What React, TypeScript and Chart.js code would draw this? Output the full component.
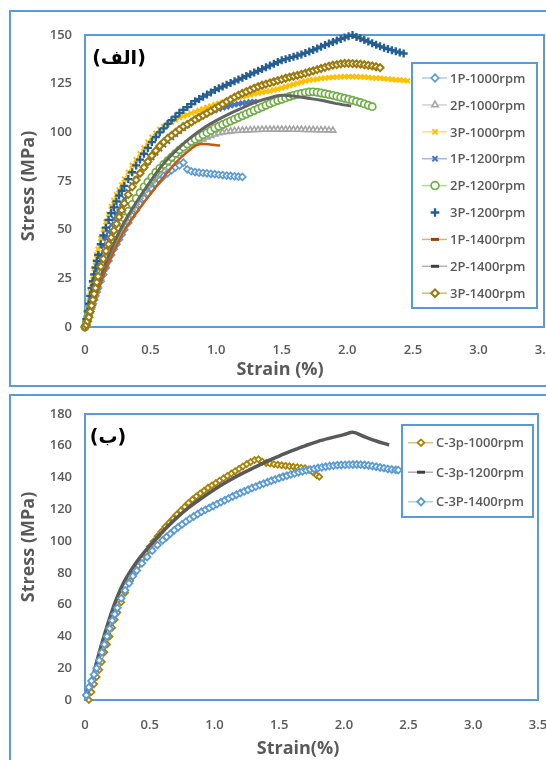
import React, { useEffect, useRef } from "react";
import { Chart, registerables } from "chart.js";
import { drawPoint } from "chart.js/helpers";

Chart.register(...registerables);
Chart.defaults.font.family = "'Open Sans', sans-serif";

// ---------- Chart (الف) data ----------
const STRAIN_TOP = [
  0, 0.01, 0.02, 0.03, 0.04, 0.05, 0.06, 0.07, 0.08, 0.09,
  0.1, 0.12, 0.14, 0.16, 0.18, 0.2, 0.22, 0.24, 0.26, 0.28,
  0.3, 0.33, 0.36, 0.39, 0.42, 0.45, 0.48, 0.51, 0.54, 0.57,
  0.6, 0.63, 0.66, 0.69, 0.72, 0.75, 0.78, 0.81, 0.84, 0.87,
  0.9, 0.93, 0.96, 0.99, 1.02, 1.05, 1.08, 1.11, 1.14, 1.17,
  1.2, 1.23, 1.26, 1.29, 1.32, 1.35, 1.38, 1.41, 1.44, 1.47,
  1.5, 1.53, 1.56, 1.59, 1.62, 1.65, 1.68, 1.71, 1.74, 1.77,
  1.8, 1.83, 1.86, 1.89, 1.92, 1.95, 1.98, 2.01, 2.04, 2.07,
  2.1, 2.13, 2.16, 2.19, 2.22, 2.25, 2.28, 2.31, 2.34, 2.37,
  2.4, 2.43, 2.46,
];

const STRESS_1P_1000 = [
  0, 2, 4, 6, 8, 10, 12, 14, 16, 18,
  20, 23.5, 27, 30.5, 34, 37, 40, 42.5, 45, 47.5,
  50, 53.5, 57, 60, 63, 66, 68.5, 71, 73.5, 75.5,
  77.5, 79, 80.5, 82, 83, 84.5, 81, 80, 79.6, 79.3,
  79.1, 78.9, 78.7, 78.5, 78.2, 78, 77.8, 77.6, 77.4, 77.2,
  77.1,
];
const STRESS_2P_1000 = [
  0, 2, 4, 6, 8, 10, 12.5, 15, 17.5, 19.5,
  21.5, 25.5, 29.5, 33, 36.5, 40, 43, 46, 49, 51.5,
  54, 57.5, 61, 64, 67, 70, 72.5, 75, 77.5, 80,
  82, 84, 86, 88, 89, 90.5, 92, 93.5, 94.5, 95.5,
  96.5, 97.5, 98.3, 99, 99.6, 100, 100.3, 100.6, 100.8, 100.9,
  101, 101.1, 101.2, 101.3, 101.3, 101.4, 101.4, 101.5, 101.5, 101.5,
  101.5, 101.5, 101.5, 101.4, 101.4, 101.4, 101.3, 101.3, 101.3, 101.2,
  101.2, 101.2, 101.1, 101,
];
const STRESS_3P_1000 = [
  0, 4, 9, 13, 18, 22, 26, 30, 33.5, 37,
  40, 45.5, 50, 54, 58, 62, 65, 68, 70.5, 73,
  76, 79.5, 83, 86, 89, 92, 95, 97.5, 99.5, 101.5,
  103, 104.1, 105.3, 106.4, 107.5, 108.3, 109, 109.8, 110.5, 111.3,
  112, 112.8, 113.5, 114.3, 114.9, 115.5, 116.1, 116.7, 117.3, 117.8,
  118.3, 118.7, 119.2, 119.7, 120.1, 120.5, 120.9, 121.3, 121.8, 122.2,
  122.8, 123.4, 124, 124.6, 125.2, 125.8, 126.3, 126.8, 127.1, 127.4,
  127.7, 127.9, 128.1, 128.3, 128.4, 128.5, 128.6, 128.6, 128.6, 128.5,
  128.5, 128.4, 128.2, 128, 127.9, 127.8, 127.6, 127.4, 127.2, 127,
  126.9, 126.7, 126.5,
];
const STRESS_1P_1200 = [
  0, 3.5, 7, 10.5, 14, 17, 20.5, 23.5, 26.5, 29.5,
  32, 37, 41.5, 45.5, 49, 52.5, 55.5, 58.5, 61, 63.5,
  66, 69.5, 73, 76, 79, 82, 84.5, 87, 89.5, 91.5,
  93.5, 95.4, 97.3, 99, 100.5, 102, 103.5, 105, 106.5, 107.6,
  108.7, 109.8, 110.5, 111.3, 111.9, 112.5, 113.1, 113.7, 114.2, 114.6,
  115, 115.3, 115.6, 115.8,
];
const STRESS_2P_1200 = [
  0, 2.5, 5, 7.5, 10, 12.5, 15, 17.5, 20, 22,
  24, 28, 32, 35.5, 39, 42, 45, 48, 51, 53.5,
  56, 59.5, 63, 66, 69, 72, 74.5, 77, 79.5, 81.5,
  83.5, 85.4, 87.3, 89.2, 91, 92.5, 94, 95.4, 96.5, 97.6,
  98.7, 99.8, 101, 102.2, 103.1, 104, 104.9, 105.8, 106.7, 107.6,
  108.5, 109.4, 110.3, 111.2, 112.1, 113, 113.9, 114.8, 115.6, 116.3,
  117, 117.7, 118.4, 119, 119.5, 120, 120.4, 120.7, 120.8, 120.6,
  120.2, 119.8, 119.4, 119, 118.5, 118, 117.5, 117, 116.5, 115.9,
  115.3, 114.6, 113.9, 113.2,
];
const STRESS_3P_1200 = [
  0, 4, 8, 12, 16, 20, 23.5, 27, 30.5, 34,
  37, 42.5, 47, 51, 55, 58.5, 61.5, 64.5, 67.5, 70,
  72.5, 76, 79.5, 83, 86, 89, 92, 95, 97.5, 100,
  102, 104.3, 106.2, 108.1, 110, 111.5, 113, 114.5, 116, 117.1,
  118.3, 119.4, 120.5, 121.7, 122.6, 123.5, 124.4, 125.3, 126.2, 127.1,
  128, 128.9, 129.8, 130.7, 131.6, 132.5, 133.4, 134.3, 135.2, 136.1,
  137, 137.6, 138.2, 138.8, 139.4, 140, 140.8, 141.5, 142.3, 143.1,
  144, 144.8, 145.6, 146.4, 147.2, 148, 148.7, 149.4, 150, 149,
  148.3, 147.4, 146.6, 145.8, 145, 144.2, 143.5, 142.8, 142.2, 141.6,
  141, 140.5,
];
const STRESS_3P_1400 = [
  0, 1, 3, 5, 8, 11, 14, 17, 20, 23,
  26, 31, 35, 39, 42.5, 46, 49.5, 53, 56.5, 60,
  63.5, 68, 72, 75.5, 79, 82, 85, 88, 90.5, 93,
  95, 96.9, 98.4, 99.9, 101.5, 103, 104.1, 105.2, 106.5, 107.6,
  108.7, 109.8, 111, 112.1, 113.3, 114.5, 115.7, 116.9, 118.1, 119.1,
  120, 120.9, 121.8, 122.7, 123.5, 124.2, 124.8, 125.4, 126, 126.6,
  127.2, 127.8, 128.4, 128.8, 129.3, 129.8, 130.4, 131, 131.6, 132.2,
  132.8, 133.4, 134, 134.5, 134.8, 135.2, 135.4, 135.4, 135.3, 135.2,
  135, 134.7, 134.4, 134.1, 133.7, 133.2,
];
const STRAIN_1P_1400 = [0, 0.05, 0.1, 0.15, 0.2, 0.25, 0.3, 0.4, 0.5, 0.6, 0.7, 0.8, 0.85, 0.9, 0.95, 1.03];
const STRESS_1P_1400 = [0, 9, 19, 28, 36, 43, 49.5, 59.5, 68.5, 77, 85, 91, 93.5, 94, 93.8, 93.2];
const STRAIN_2P_1400 = [0, 0.05, 0.1, 0.15, 0.2, 0.25, 0.3, 0.4, 0.5, 0.6, 0.7, 0.8, 0.9, 1.0, 1.1, 1.2, 1.3, 1.4, 1.5, 1.6, 1.7, 1.8, 1.9, 2.03];
const STRESS_2P_1400 = [0, 11, 22, 31.5, 40, 47.5, 54, 65, 75, 84, 91, 97, 102, 106, 109.5, 112.5, 115.5, 117.5, 119, 118.5, 117.5, 116.5, 115, 113.5];

// ---------- Chart (ب) data ----------
const STRAIN_C_1000 = [
  0.03, 0.05, 0.07, 0.09, 0.11, 0.13, 0.15, 0.17, 0.19, 0.21,
  0.23, 0.25, 0.28, 0.31,
  0.35, 0.38, 0.41, 0.44, 0.47, 0.5, 0.53, 0.56, 0.59, 0.62,
  0.65, 0.68, 0.71, 0.74, 0.77, 0.8, 0.83, 0.86, 0.89, 0.92,
  0.95, 0.98, 1.01, 1.04, 1.07, 1.1, 1.13, 1.16, 1.19, 1.22,
  1.25, 1.28, 1.31, 1.34, 1.37, 1.4, 1.43, 1.46, 1.49, 1.52,
  1.55, 1.58, 1.61, 1.64, 1.67, 1.7, 1.73, 1.76, 1.79, 1.81,
];
const STRESS_C_1000 = [
  0, 5, 10, 14.5, 19, 24, 30, 35, 40, 45.5,
  50.5, 55, 61.5, 67.5,
  75, 80, 84.5, 88.6, 92.6, 96.5, 99.8, 103, 106, 109,
  111.5, 114.2, 116.8, 119.2, 121.6, 124, 126.1, 128.1, 130, 131.7,
  133.5, 135, 136.5, 138, 139.5, 141, 142.5, 144, 145.5, 147,
  148.5, 149.8, 151, 151.5, 150, 149.2, 148.8, 148.4, 148, 147.7,
  147.4, 147.1, 146.8, 146.5, 146.2, 145.9, 145, 143.5, 141.5, 140.5,
];
const STRAIN_C_1200 = [0, 0.05, 0.1, 0.15, 0.2, 0.25, 0.3, 0.4, 0.5, 0.6, 0.7, 0.8, 0.9, 1.0, 1.1, 1.2, 1.3, 1.4, 1.5, 1.6, 1.7, 1.8, 1.9, 2.0, 2.07, 2.15, 2.25, 2.35];
const STRESS_C_1200 = [2, 12, 27, 41, 54, 65, 74, 87, 97, 106, 114, 121, 127, 132.5, 137.5, 142, 146, 150, 153.5, 157, 160, 162.8, 165, 167, 168.5, 166, 163, 160.5];
const STRAIN_C_1400 = [
  0.01, 0.03, 0.05, 0.07, 0.09, 0.11, 0.13, 0.15, 0.17, 0.19,
  0.21, 0.23, 0.25, 0.28, 0.31, 0.34, 0.37, 0.4, 0.44, 0.48,
  0.52, 0.56,
  0.6, 0.63, 0.66, 0.69, 0.72, 0.75, 0.78, 0.81, 0.84, 0.87,
  0.9, 0.93, 0.96, 0.99, 1.02, 1.05, 1.08, 1.11, 1.14, 1.17,
  1.2, 1.23, 1.26, 1.29, 1.32, 1.35, 1.38, 1.41, 1.44, 1.47,
  1.5, 1.53, 1.56, 1.59, 1.62, 1.65, 1.68, 1.71, 1.74, 1.77,
  1.8, 1.83, 1.86, 1.89, 1.92, 1.95, 1.98, 2.01, 2.04, 2.07,
  2.1, 2.13, 2.16, 2.19, 2.22, 2.25, 2.28, 2.31, 2.34, 2.37,
  2.4, 2.42,
];
const STRESS_C_1400 = [
  3, 8, 12, 16, 20, 25, 30, 35, 40, 45,
  50, 54, 58, 64, 69, 73.5, 78, 81.5, 86, 90,
  94, 97.5,
  100.5, 102.6, 104.7, 106.9, 108.7, 110.5, 112.3, 114, 115.5, 117,
  118.5, 119.7, 120.9, 122.1, 123.3, 124.5, 125.7, 126.9, 128.1, 129.2,
  130.3, 131.3, 132.3, 133.4, 134.3, 135.3, 136.2, 137.1, 138, 138.9,
  139.7, 140.5, 141.2, 142, 142.6, 143.3, 143.9, 144.5, 145, 145.5,
  146, 146.4, 146.8, 147.2, 147.5, 147.8, 147.9, 148, 148.1, 148.2,
  148.2, 148.1, 147.9, 147.6, 147.2, 146.8, 146.3, 145.9, 145.4, 145.1,
  144.8, 144.7,
];

const TOP_LABELS = ["1P-1000rpm", "2P-1000rpm", "3P-1000rpm", "1P-1200rpm", "2P-1200rpm", "3P-1200rpm", "1P-1400rpm", "2P-1400rpm", "3P-1400rpm"];
const BOTTOM_LABELS = ["C-3p-1000rpm", "C-3p-1200rpm", "C-3P-1400rpm"];

const TEXT_GRAY = "#595959";
const BORDER_BLUE = "#5b9bd5";
const CANVAS_W = 560;

function pts(xs: number[], ys: number[]) {
  return ys.map((y, i) => ({ x: xs[i], y }));
}

function markerSeries(label: string, xs: number[], ys: number[], color: string, style: string, radius: number, bw: number, showLine = true) {
  return {
    label,
    data: pts(xs, ys),
    borderColor: color,
    backgroundColor: "#ffffff",
    borderWidth: 1,
    showLine,
    pointStyle: style,
    pointRadius: radius,
    pointBorderWidth: bw,
    pointBorderColor: color,
    pointBackgroundColor: "#ffffff",
    clip: false,
  };
}

function lineSeries(label: string, xs: number[], ys: number[], color: string, width: number, markerColor: string) {
  return {
    label,
    data: pts(xs, ys),
    borderColor: color,
    borderWidth: width,
    showLine: true,
    pointRadius: 0,
    cubicInterpolationMode: "monotone",
    clip: false,
    legendMarker: { style: "line", radius: 4, width: 3, color: markerColor },
  };
}

type TextItem = { text: string; x: number; y: number; font: string; color: string; rotate?: number };
type Decor = {
  box: [number, number, number, number];
  rowY0: number;
  rowGap: number;
  lineX0: number;
  lineX1: number;
  markerX: number;
  textX: number;
  font: string;
  texts: TextItem[];
};

function makeDecor(decor: Decor) {
  return {
    id: "decor",
    beforeDatasetsDraw(chart: any) {
      const { ctx, chartArea: a } = chart;
      ctx.save();
      ctx.strokeStyle = BORDER_BLUE;
      ctx.lineWidth = 2;
      ctx.strokeRect(a.left, a.top, a.right - a.left, a.bottom - a.top);
      ctx.restore();
    },
    afterDraw(chart: any) {
      const ctx = chart.ctx as CanvasRenderingContext2D;
      ctx.save();
      const [bx, by, bw, bh] = decor.box;
      ctx.fillStyle = "#ffffff";
      ctx.fillRect(bx, by, bw, bh);
      ctx.strokeStyle = BORDER_BLUE;
      ctx.lineWidth = 2;
      ctx.strokeRect(bx, by, bw, bh);
      chart.data.datasets.forEach((ds: any, i: number) => {
        const y = decor.rowY0 + i * decor.rowGap;
        if (ds.showLine !== false) {
          ctx.save();
          ctx.globalAlpha = 0.5;
          ctx.strokeStyle = ds.borderColor;
          ctx.lineWidth = 1.5;
          ctx.beginPath();
          ctx.moveTo(decor.lineX0, y);
          ctx.lineTo(decor.lineX1, y);
          ctx.stroke();
          ctx.restore();
        }
        const m = ds.legendMarker || {
          style: ds.pointStyle,
          radius: ds.pointRadius + 0.3,
          width: ds.pointBorderWidth,
          color: ds.pointBorderColor,
        };
        ctx.save();
        ctx.fillStyle = "#ffffff";
        ctx.strokeStyle = m.color;
        ctx.lineWidth = m.width;
        drawPoint(ctx, { pointStyle: m.style, radius: m.radius, rotation: 0, borderWidth: m.width } as any, decor.markerX, y);
        ctx.restore();
        ctx.fillStyle = TEXT_GRAY;
        ctx.font = decor.font;
        ctx.textAlign = "left";
        ctx.textBaseline = "middle";
        ctx.fillText(ds.label, decor.textX, y + 1);
      });
      decor.texts.forEach((t) => {
        ctx.save();
        ctx.translate(t.x, t.y);
        if (t.rotate) ctx.rotate(t.rotate);
        ctx.font = t.font;
        ctx.fillStyle = t.color;
        ctx.textAlign = "center";
        ctx.textBaseline = "middle";
        ctx.fillText(t.text, 0, 0);
        ctx.restore();
      });
      ctx.restore();
    },
  };
}

type PanelProps = {
  top: number;
  height: number;
  datasets: any[];
  yMax: number;
  yStep: number;
  xPad: number;
  plot: { left: number; top: number; right: number; bottom: number };
  decor: Decor;
};

function Panel({ top, height, datasets, yMax, yStep, xPad, plot, decor }: PanelProps) {
  const ref = useRef<HTMLCanvasElement>(null);
  useEffect(() => {
    const n = datasets.length;
    const ds = datasets.map((d, i) => ({ ...d, order: n - i }));
    const tickFont = { size: 13, weight: "600" as any };
    const chart = new Chart(ref.current as HTMLCanvasElement, {
      type: "scatter",
      data: { datasets: ds },
      options: {
        animation: false,
        responsive: false,
        events: [],
        layout: { padding: { left: 0, top: plot.top, right: CANVAS_W - plot.right, bottom: 0 } },
        plugins: { legend: { display: false }, tooltip: { enabled: false } },
        scales: {
          x: {
            type: "linear",
            min: 0,
            max: 3.5,
            ticks: { stepSize: 0.5, color: TEXT_GRAY, font: tickFont, padding: xPad, maxRotation: 0, autoSkip: false },
            grid: { display: false, drawTicks: false },
            border: { display: false },
            afterFit: (s: any) => {
              s.height = height - plot.bottom;
              s.paddingLeft = 0;
              s.paddingRight = 0;
            },
          },
          y: {
            type: "linear",
            min: 0,
            max: yMax,
            ticks: { stepSize: yStep, color: TEXT_GRAY, font: tickFont, padding: 13 },
            grid: { display: false, drawTicks: false },
            border: { display: false },
            afterFit: (s: any) => {
              s.width = plot.left;
              s.paddingTop = 0;
              s.paddingBottom = 0;
            },
          },
        },
      } as any,
      plugins: [makeDecor(decor)],
    });
    return () => chart.destroy();
  }, []);
  return (
    <canvas
      ref={ref}
      width={CANVAS_W}
      height={height}
      style={{ position: "absolute", left: 0, top, width: CANVAS_W, height }}
    />
  );
}

const TITLE_FONT = "bold 18px 'Open Sans', sans-serif";
const ARABIC_FONT = "bold 19px 'DejaVu Sans', sans-serif";
const LEGEND_FONT = "600 13px 'Open Sans', sans-serif";

export default function App() {
  const topSets = [
    markerSeries(TOP_LABELS[0], STRAIN_TOP, STRESS_1P_1000, "#5b9bd5", "rectRot", 3.4, 1.7),
    markerSeries(TOP_LABELS[1], STRAIN_TOP, STRESS_2P_1000, "#a5a5a5", "triangle", 3.4, 1.6),
    markerSeries(TOP_LABELS[2], STRAIN_TOP, STRESS_3P_1000, "#ffc000", "crossRot", 3.4, 2),
    markerSeries(TOP_LABELS[3], STRAIN_TOP, STRESS_1P_1200, "#4472c4", "crossRot", 3.4, 2),
    markerSeries(TOP_LABELS[4], STRAIN_TOP, STRESS_2P_1200, "#70ad47", "circle", 3.6, 1.7),
    markerSeries(TOP_LABELS[5], STRAIN_TOP, STRESS_3P_1200, "#255e91", "cross", 4, 2.3, false),
    lineSeries(TOP_LABELS[6], STRAIN_1P_1400, STRESS_1P_1400, "#c55a11", 2.5, "#9e3f0a"),
    lineSeries(TOP_LABELS[7], STRAIN_2P_1400, STRESS_2P_1400, "#636363", 3, "#404040"),
    markerSeries(TOP_LABELS[8], STRAIN_TOP, STRESS_3P_1400, "#9c7a0c", "rectRot", 3.5, 2),
  ];
  const bottomSets = [
    markerSeries(BOTTOM_LABELS[0], STRAIN_C_1000, STRESS_C_1000, "#a88308", "rectRot", 3, 1.8),
    lineSeries(BOTTOM_LABELS[1], STRAIN_C_1200, STRESS_C_1200, "#595959", 3.5, "#404040"),
    markerSeries(BOTTOM_LABELS[2], STRAIN_C_1400, STRESS_C_1400, "#5b9bd5", "rectRot", 3.4, 1.8),
  ];

  const topDecor: Decor = {
    box: [412, 63, 125, 245],
    rowY0: 78,
    rowGap: 26.9,
    lineX0: 422,
    lineX1: 447,
    markerX: 435,
    textX: 450,
    font: LEGEND_FONT,
    texts: [
      { text: "(الف)", x: 119, y: 59, font: ARABIC_FONT, color: "#000000" },
      { text: "Stress (MPa)", x: 29, y: 186, font: TITLE_FONT, color: TEXT_GRAY, rotate: -Math.PI / 2 },
      { text: "Strain (%)", x: 280, y: 370, font: TITLE_FONT, color: TEXT_GRAY },
    ],
  };
  const bottomDecor: Decor = {
    box: [402, 35, 131, 92],
    rowY0: 52.7,
    rowGap: 29.5,
    lineX0: 408,
    lineX1: 433,
    markerX: 421,
    textX: 436,
    font: LEGEND_FONT,
    texts: [
      { text: "(ب)", x: 108, y: 48, font: ARABIC_FONT, color: "#000000" },
      { text: "Stress (MPa)", x: 29, y: 157, font: TITLE_FONT, color: TEXT_GRAY, rotate: -Math.PI / 2 },
      { text: "Strain(%)", x: 298, y: 359, font: TITLE_FONT, color: TEXT_GRAY },
    ],
  };

  return (
    <div style={{ position: "fixed", left: 0, top: 0, width: 546, height: 760, overflow: "hidden", background: "#ffffff" }}>
      <div style={{ position: "absolute", left: 9, top: 10, width: 600, height: 377, border: `2px solid ${BORDER_BLUE}`, boxSizing: "border-box" }} />
      <div style={{ position: "absolute", left: 9, top: 394, width: 600, height: 420, border: `2px solid ${BORDER_BLUE}`, boxSizing: "border-box" }} />
      <Panel
        top={0}
        height={390}
        datasets={topSets}
        yMax={150}
        yStep={25}
        xPad={15}
        plot={{ left: 85, top: 35, right: 544, bottom: 327 }}
        decor={topDecor}
      />
      <Panel
        top={390}
        height={370}
        datasets={bottomSets}
        yMax={180}
        yStep={20}
        xPad={17}
        plot={{ left: 85, top: 24, right: 538, bottom: 310 }}
        decor={bottomDecor}
      />
    </div>
  );
}
